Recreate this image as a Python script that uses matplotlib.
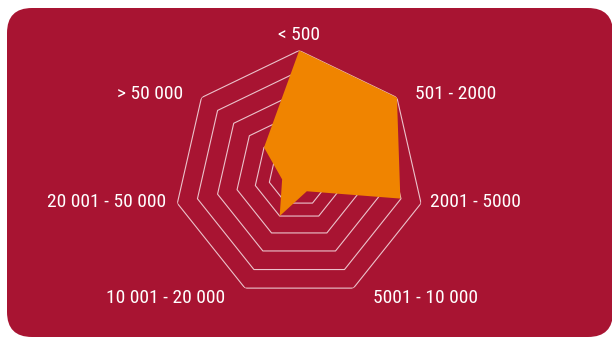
import numpy as np
import matplotlib
matplotlib.use("Agg")
import matplotlib.pyplot as plt
from matplotlib.patches import FancyBboxPatch
from matplotlib import font_manager

# ---- data ----
categories = ["< 500", "501 - 2000", "2001 - 5000", "5001 - 10 000",
              "10 001 - 20 000", "20 001 - 50 000", "> 50 000"]
values = [100, 100, 83, 14, 36, 14, 36]
ring_levels = [24.5, 36, 51, 67, 83.5, 100]
r_max = 100

# ---- style ----
BG = "#A81432"
ORANGE = "#F08400"
GRID = "#EBC3CB"
W, H = 612, 337
DPI = 100

installed = {f.name for f in font_manager.fontManager.ttflist}
narrow = [f for f in ["Roboto Condensed", "Liberation Sans Narrow", "Open Sans Condensed"]
          if f in installed]
if narrow:
    fam, fsize = [narrow[0], "DejaVu Sans"], 14
else:
    fam, fsize = ["Roboto", "DejaVu Sans"], 11.5
plt.rcParams['font.family'] = fam

fig = plt.figure(figsize=(W / DPI, H / DPI), dpi=DPI)
fig.patch.set_facecolor("white")

# rounded background panel (pixel geometry -> figure fraction)
x0, y0, x1, y1, rad = 7, 8, 613, 337, 25
bg = FancyBboxPatch((x0 / W, 1 - y1 / H), (x1 - x0) / W, (y1 - y0) / H,
                    boxstyle=f"round,pad=0,rounding_size={rad / W}",
                    transform=fig.transFigure, facecolor=BG, edgecolor="none",
                    mutation_aspect=W / H, zorder=-10)
fig.add_artist(bg)

cx, cy, R = 299.2, 175.5, 125
ax = fig.add_axes([(cx - R) / W, (H - cy - R) / H, 2 * R / W, 2 * R / H],
                  projection="polar")
ax.set_zorder(5)
ax.set_facecolor("none")
ax.patch.set_alpha(0)
ax.set_theta_zero_location("N")
ax.set_theta_direction(-1)
ax.set_ylim(0, r_max)
ax.grid(False)
ax.spines["polar"].set_visible(False)
ax.set_xticks([])
ax.set_yticks([])

n = len(categories)
theta = np.arange(n) * 2 * np.pi / n
theta_c = np.append(theta, theta[0])

for lvl in ring_levels:
    ax.plot(theta_c, [lvl] * (n + 1), color=GRID, lw=0.8, zorder=1)

vals_c = np.append(values, values[0])
ax.fill(theta_c, vals_c, color=ORANGE, lw=0, zorder=2)

# labels: offset (px) from outer vertex, with alignment
label_style = [
    ((0, 15.5), "center"),
    ((18, 4), "left"),
    ((9, 1), "left"),
    ((20, -10), "left"),
    ((-20, -10), "right"),
    ((-11, 1), "right"),
    ((-18, 4), "right"),
]
for t, lab, (off, ha) in zip(theta, categories, label_style):
    ax.annotate(lab, xy=(t, r_max), xytext=(off[0] * 72 / DPI, off[1] * 72 / DPI),
                textcoords="offset points", ha=ha, va="center",
                color="white", fontsize=fsize, annotation_clip=False)

fig.savefig("out.png", dpi=DPI, facecolor=fig.get_facecolor())
